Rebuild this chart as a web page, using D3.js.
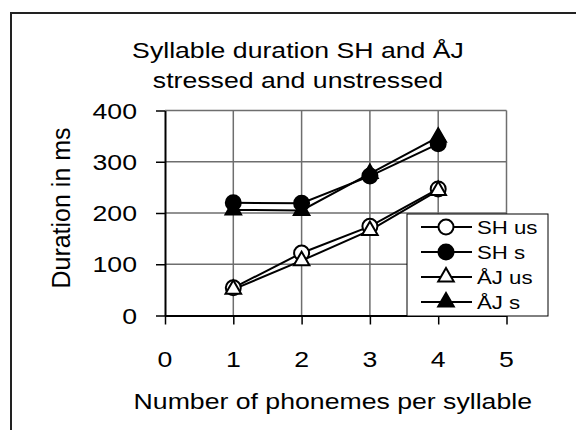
<!DOCTYPE html>
<html>
<head>
<meta charset="utf-8">
<script src="https://cdn.jsdelivr.net/npm/d3@7"></script>
<style>
  body { margin: 0; background: #fff; }
  text { font-family: "Liberation Sans", Arial, sans-serif; fill: #000; }
</style>
</head>
<body>
<div id="chart"></div>
<script>

// chart data
var phonemes = [1, 2, 3, 4];
var shUnstressed = [54, 122, 174, 247];
var shStressed = [220, 219, 272, 335];
var ajUnstressed = [51, 107, 166, 244];
var ajStressed = [206, 205, 277, 348];
var seriesNames = ['SH us', 'SH s', '\u00c5J us', '\u00c5J s'];
var xTicks = [0, 1, 2, 3, 4, 5];
var yTicks = [0, 100, 200, 300, 400];

var width = 576,
    height = 430;

var stretch = 1.24; // the picture is widened, text too

var svg = d3.select('#chart')
  .append('svg')
  .attr('width', width)
  .attr('height', height);

// outer frame (runs past the right and bottom edge)
svg.append('rect')
  .attr('x', 11).attr('y', 13)
  .attr('width', 620).attr('height', 500)
  .style('fill', 'none')
  .style('stroke', '#222')
  .style('stroke-width', 2);

var x = d3.scaleLinear().domain([0, 5]).range([165, 506.5]);
var y = d3.scaleLinear().domain([0, 400]).range([315.5, 110.5]);

// helper for widened text
var addText = (px, py, str, size, anchor) => {
  var g = svg.append('g').attr('transform', 'translate(' + px + ',' + py + ')');
  g.append('text')
    .attr('transform', 'scale(' + stretch + ',1)')
    .attr('text-anchor', anchor || 'middle')
    .style('font-size', size + 'px')
    .text(str);
};

// title
addText(298, 58, 'Syllable duration SH and \u00c5J', 21.5);
addText(298, 88, 'stressed and unstressed', 21.5);

// gridlines
svg.append('g').selectAll('line.gx')
  .data(xTicks.slice(1))
  .enter().append('line')
  .attr('x1', d => x(d)).attr('x2', d => x(d))
  .attr('y1', y(400)).attr('y2', y(0))
  .style('stroke', '#6e6e6e').style('stroke-width', 1.5);

svg.append('g').selectAll('line.gy')
  .data(yTicks.slice(1))
  .enter().append('line')
  .attr('x1', x(0)).attr('x2', x(5))
  .attr('y1', d => y(d)).attr('y2', d => y(d))
  .style('stroke', '#6e6e6e').style('stroke-width', 1.5);

// axes
var xAxis = svg.append('g')
  .attr('transform', 'translate(0,' + y(0) + ')')
  .call(d3.axisBottom(x).tickValues(xTicks).tickSize(9).tickSizeOuter(0).tickFormat(''));
var yAxis = svg.append('g')
  .attr('transform', 'translate(' + x(0) + ',0)')
  .call(d3.axisLeft(y).tickValues(yTicks).tickSize(9).tickSizeOuter(0).tickFormat(''));
[xAxis, yAxis].forEach(a => {
  a.select('.domain').style('stroke', '#000').style('stroke-width', 2);
  a.selectAll('.tick line').style('stroke', '#000').style('stroke-width', 1.5);
});

// tick labels
xTicks.forEach(t => addText(x(t), 367, t, 21.5));
yTicks.forEach(t => addText(137, y(t) + 8, t, 21.5, 'end'));

// axis titles
addText(x(2.5) - 3, 409, 'Number of phonemes per syllable', 21.5);
svg.append('text')
  .attr('transform', 'translate(70,' + 208 + ') rotate(-90)')
  .attr('text-anchor', 'middle')
  .style('font-size', '25px')
  .text('Duration in ms');

// series
var series = [
  {name: seriesNames[0], values: shUnstressed, shape: 'circle', fill: '#fff'},
  {name: seriesNames[1], values: shStressed, shape: 'circle', fill: '#000'},
  {name: seriesNames[2], values: ajUnstressed, shape: 'triangle', fill: '#fff'},
  {name: seriesNames[3], values: ajStressed, shape: 'triangle', fill: '#000'}
];

var line = d3.line()
  .x((d, i) => x(phonemes[i]))
  .y(d => y(d));

var drawMarker = (g, s, cx, cy) => {
  if (s.shape == 'circle') {
    g.append('circle')
      .attr('cx', cx).attr('cy', cy).attr('r', 7.5)
      .style('fill', s.fill).style('stroke', '#000').style('stroke-width', 2);
  } else {
    g.append('path')
      .attr('d', d3.symbol().type(d3.symbolTriangle).size(105)())
      .attr('transform', 'translate(' + cx + ',' + cy + ')')
      .style('fill', s.fill).style('stroke', '#000').style('stroke-width', 2);
  }
};

series.forEach(s => {
  svg.append('path')
    .datum(s.values)
    .attr('d', line)
    .style('fill', 'none')
    .style('stroke', '#000')
    .style('stroke-width', 2);
});
series.forEach(s => {
  var g = svg.append('g');
  s.values.forEach((v, i) => drawMarker(g, s, x(phonemes[i]), y(v)));
});

// legend
var legend = svg.append('g');
legend.append('rect')
  .attr('x', 407).attr('y', 214)
  .attr('width', 141).attr('height', 102)
  .style('fill', '#fff')
  .style('stroke', '#000')
  .style('stroke-width', 1);

series.forEach((s, i) => {
  var ry = 227 + i * 25;
  legend.append('line')
    .attr('x1', 421).attr('x2', 472)
    .attr('y1', ry).attr('y2', ry)
    .style('stroke', '#000').style('stroke-width', 2);
  drawMarker(legend, s, 446, ry);
  var g = legend.append('g').attr('transform', 'translate(477,' + (ry + 7) + ')');
  g.append('text')
    .attr('transform', 'scale(1.17,1)')
    .style('font-size', '19px')
    .text(s.name);
});

</script>
</body>
</html>
